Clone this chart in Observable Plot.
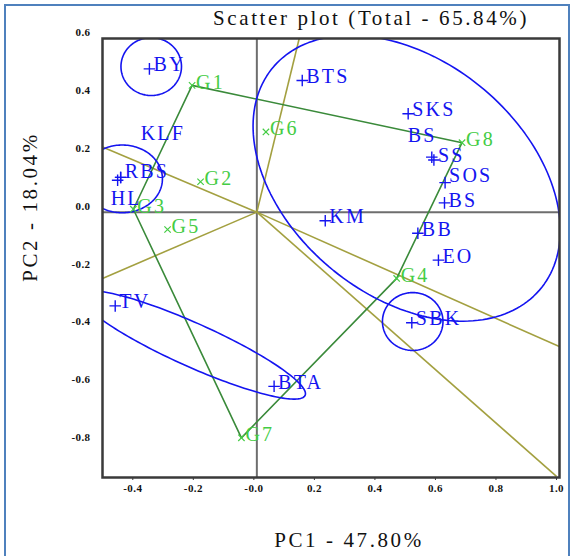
<!DOCTYPE html>
<html><head><meta charset="utf-8">
<script src="https://cdn.jsdelivr.net/npm/d3@7"></script>
<script src="https://cdn.jsdelivr.net/npm/@observablehq/plot@0.6"></script>
<style>
html,body{margin:0;padding:0;background:#fff;overflow:hidden;}
#wrap{position:relative;width:574px;height:556px;}
#border{position:absolute;left:4px;top:4px;width:566px;height:620px;border:2px solid #4f81bd;box-sizing:border-box;pointer-events:none;}
#wrap svg{position:absolute;left:0;top:0;}
</style></head><body><div id="wrap"><div id="border"></div></div>
<script>
// ---------------- data ----------------
const titleText = "Scatter plot (Total - 65.84%)";
const xTitle = "PC1 - 47.80%";
const yTitle = "PC2 - 18.04%";

const xTicks = [-0.4, -0.2, 0, 0.2, 0.4, 0.6, 0.8, 1.0];
const xTickLabels = ["-0.4", "-0.2", "-0.0", "0.2", "0.4", "0.6", "0.8", "1.0"];
const yTicks = [0.6, 0.4, 0.2, 0, -0.2, -0.4, -0.6, -0.8];
const yTickLabels = ["0.6", "0.4", "0.2", "0.0", "-0.2", "-0.4", "-0.6", "-0.8"];

// observations (blue +)
const obsLabels = ["BY", "BTS", "SKS", "BS", "SS", "SOS", "BS", "KM", "BB", "EO", "SBK", "KLF", "RBS", "HL", "TV", "BTA"];
const obsX = [-0.355, 0.15, 0.50, 0.578, 0.585, 0.622, 0.62, 0.226, 0.532, 0.60, 0.512, -0.45, -0.45, -0.46, -0.468, 0.057];
const obsY = [0.495, 0.455, 0.34, 0.19, 0.18, 0.102, 0.032, -0.03, -0.073, -0.166, -0.382, 0.12, 0.12, 0.11, -0.324, -0.602];

// groups (green x)
const grpLabels = ["G1", "G2", "G3", "G4", "G5", "G6", "G7", "G8"];
const grpX = [-0.214, -0.186, -0.408, 0.462, -0.295, 0.03, -0.051, 0.678];
const grpY = [0.438, 0.105, 0.01, -0.229, -0.06, 0.277, -0.78, 0.24];

// variable rays (olive) from origin
const rayX = [0.14, -0.51, -0.51, 1.0, 0.99];
const rayY = [0.60, 0.225, -0.229, -0.465, -0.913];

// confidence ellipses (blue)
const ellCx = [-0.349, 0.515, -0.445, 0.495, -0.2126];
const ellCy = [0.503, -0.378, 0.115, 0.117, -0.4586];
const ellRx = [0.10, 0.10, 0.133, 0.585, 0.411];
const ellRy = [0.10, 0.10, 0.117, 0.399, 0.0743];
const ellAngle = [0, 0, 0, -42.85, -25.2];

// ---------------- build ----------------
const obs = obsLabels.map((label, i) => ({i, label, x: obsX[i], y: obsY[i]}));
const grp = grpLabels.map((label, i) => ({i, label, x: grpX[i], y: grpY[i]}));
const rays = rayX.map((x, i) => ({x1: 0, y1: 0, x2: x, y2: rayY[i]}));
const ellPts = [];
ellCx.forEach((cx, k) => {
  const th = ellAngle[k] * Math.PI / 180;
  for (let s = 0; s <= 360; s += 2) {
    const t = s * Math.PI / 180;
    const u = ellRx[k] * Math.cos(t), v = ellRy[k] * Math.sin(t);
    ellPts.push({k, x: cx + u * Math.cos(th) - v * Math.sin(th), y: ellCy[k] + u * Math.sin(th) + v * Math.cos(th)});
  }
});

const BLUE = "#1414f0", GREEN_L = "#44cc44", GREEN_D = "#3a8a3a", OLIVE = "#a3a040";
const FONT = "Liberation Serif";
const LSIZE = 20;
// label nudges (layout only): [dx, dy]
const obsNudge = {3: [-24, -22], 5: [4, -7], 6: [4, -2], 11: [20, -44], 12: [4, -6], 13: [-7, 18]};

const marks = [
  Plot.ruleX([0], {stroke: "#6e6e6e", strokeWidth: 2}),
  Plot.ruleY([0], {stroke: "#6e6e6e", strokeWidth: 2}),
  Plot.link(rays, {x1: "x1", y1: "y1", x2: "x2", y2: "y2", stroke: OLIVE, strokeWidth: 1.6, clip: true}),
  Plot.hull(grp, {x: "x", y: "y", stroke: GREEN_D, strokeWidth: 1.6}),
  Plot.line(ellPts, {x: "x", y: "y", z: "k", stroke: BLUE, strokeWidth: 1.6, clip: true}),
  Plot.dot(obs, {x: "x", y: "y", symbol: "plus", r: 3.8, stroke: BLUE, strokeWidth: 1.4}),
  Plot.dot(grp, {x: "x", y: "y", symbol: "times", r: 3, stroke: GREEN_L, strokeWidth: 1.2}),
  ...obs.map(d => Plot.text([d], {x: "x", y: "y", text: "label", textAnchor: "start",
      dx: (obsNudge[d.i] || [4, -4])[0], dy: (obsNudge[d.i] || [4, -4])[1],
      fill: BLUE, fontFamily: FONT, fontSize: LSIZE})),
  Plot.text(grp, {x: "x", y: "y", text: "label", textAnchor: "start", dx: 4, dy: -3,
      fill: GREEN_L, fontFamily: FONT, fontSize: LSIZE}),
  Plot.frame({stroke: "#3a3a3a", strokeWidth: 2.5}),
  Plot.axisX({ticks: xTicks, tickFormat: d => xTickLabels[xTicks.indexOf(d)], tickSize: 3, tickPadding: 4,
      dx: -3, fontFamily: FONT, fontWeight: "bold", fontSize: 11, label: null, stroke: "#3a3a3a"}),
  Plot.axisY({ticks: yTicks, tickFormat: d => yTickLabels[yTicks.indexOf(d)], tickSize: 0, tickPadding: 12,
      dy: -6, fontFamily: FONT, fontWeight: "bold", fontSize: 11, label: null}),
  Plot.text([titleText], {frameAnchor: "top", lineAnchor: "middle", textAnchor: "middle", text: d => d, dx: 40, dy: -20,
      fontFamily: FONT, fontSize: 21, fill: "#111"}),
  Plot.text([xTitle], {frameAnchor: "bottom", lineAnchor: "middle", textAnchor: "middle", text: d => d, dx: 18, dy: 63,
      fontFamily: FONT, fontSize: 21, fill: "#111"}),
  Plot.text([yTitle], {frameAnchor: "left", lineAnchor: "middle", textAnchor: "middle", text: d => d, rotate: -90, dx: -72, dy: -51,
      fontFamily: FONT, fontSize: 21, fill: "#111"})
];

const chart = Plot.plot({
  width: 574, height: 556,
  marginLeft: 102, marginRight: 15, marginTop: 38, marginBottom: 79,
  x: {domain: [-0.51, 1.0]},
  y: {domain: [-0.917, 0.6]},
  style: {background: "transparent", color: "#111"},
  marks
});
const titles = [titleText, xTitle, yTitle];
d3.select(chart).selectAll("text").each(function () {
  const g = this.closest("g");
  const role = g ? (g.getAttribute("aria-label") || "") : "";
  let ls = "2.2px";
  if (role.includes("tick")) ls = "0.4px";
  else if (titles.includes(this.textContent)) ls = "2.6px";
  this.style.letterSpacing = ls;
});
document.getElementById("wrap").appendChild(chart);
</script>
</body></html>
